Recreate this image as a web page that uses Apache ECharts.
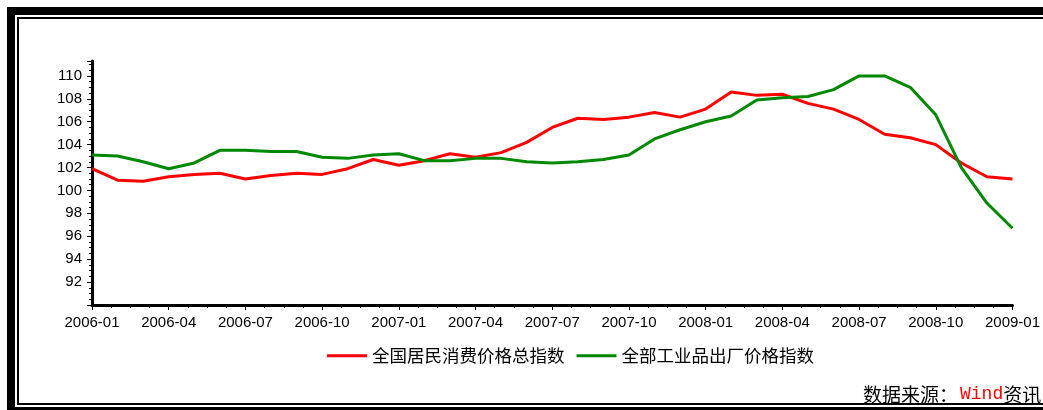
<!DOCTYPE html>
<html>
<head>
<meta charset="utf-8">
<script src="https://cdn.jsdelivr.net/npm/echarts@6/dist/echarts.min.js"></script>
<style>
html,body{margin:0;padding:0;background:#fff;}
#c{width:1043px;height:410px;}
</style>
</head>
<body>
<div id="c"></div>
<script>
const months = ['2006-01','2006-02','2006-03','2006-04','2006-05','2006-06','2006-07','2006-08','2006-09','2006-10','2006-11','2006-12',
  '2007-01','2007-02','2007-03','2007-04','2007-05','2007-06','2007-07','2007-08','2007-09','2007-10','2007-11','2007-12',
  '2008-01','2008-02','2008-03','2008-04','2008-05','2008-06','2008-07','2008-08','2008-09','2008-10','2008-11','2008-12',
  '2009-01'];
const cpi = [101.9,100.9,100.8,101.2,101.4,101.5,101.0,101.3,101.5,101.4,101.9,102.7,
  102.2,102.6,103.2,102.9,103.3,104.2,105.5,106.3,106.2,106.4,106.8,106.4,
  107.1,108.6,108.3,108.4,107.6,107.1,106.2,104.9,104.6,104.0,102.4,101.2,
  101.0];
const ppi = [103.1,103.0,102.5,101.9,102.4,103.5,103.5,103.4,103.4,102.9,102.8,103.1,
  103.2,102.6,102.6,102.8,102.8,102.5,102.4,102.5,102.7,103.1,104.5,105.3,
  106.0,106.5,107.9,108.1,108.2,108.8,110.0,110.0,109.0,106.6,102.0,98.9,
  96.7];
const yTicks = [92,94,96,98,100,102,104,106,108,110];
const seriesNames = ['全国居民消费价格总指数','全部工业品出厂价格指数'];

const chart = echarts.init(document.getElementById('c'), null, {renderer:'canvas'});
const axisFont = {fontFamily:'Liberation Sans', fontSize:15, color:'#000'};
chart.setOption({
  animation:false,
  backgroundColor:'#fff',
  graphic:[
    {type:'rect', z:-10, shape:{x:7,y:7,width:1100,height:420}, style:{fill:'#000'}},
    {type:'rect', z:-9, shape:{x:15,y:15,width:1100,height:392}, style:{fill:'#fff'}},
    {type:'rect', z:-8, shape:{x:18,y:18,width:1100,height:386}, style:{fill:'#fff', stroke:'#000', lineWidth:2}},
    {type:'text', z:10, left:863, top:385, style:{
      text:'{a|数据来源}{c|：}{w|Wind}{a|资讯}',
      rich:{
        a:{fontFamily:'Noto Sans CJK SC', fontSize:19, fill:'#000'},
        c:{fontFamily:'Noto Sans CJK SC', fontSize:19, fill:'#000', width:21},
        w:{fontFamily:'Liberation Mono', fontSize:18, fill:'#ff0000'}
      }
    }}
  ],
  legend:{
    left:327, top:347, padding:0,
    icon:'rect', itemWidth:40, itemHeight:3, itemGap:12,
    textStyle:{fontFamily:'Noto Sans CJK SC', fontSize:17.5, color:'#000'},
    data:seriesNames
  },
  grid:{left:92, right:29, top:61, bottom:105},
  xAxis:{
    type:'value', min:0, max:months.length-1, interval:3,
    axisLine:{show:true, lineStyle:{color:'#000', width:3}},
    axisTick:{show:true, length:5, lineStyle:{color:'#000'}},
    minorTick:{show:true, splitNumber:4, length:3, lineStyle:{color:'#000'}},
    splitLine:{show:false},
    axisLabel:Object.assign({margin:10, showMaxLabel:true, formatter:(v)=>months[v]||''}, axisFont)
  },
  yAxis:{
    type:'value', min:90, max:111.3, interval:2,
    axisLine:{show:true, lineStyle:{color:'#000', width:3}},
    axisTick:{show:true, length:5, lineStyle:{color:'#000'}},
    minorTick:{show:true, splitNumber:4, length:3, lineStyle:{color:'#000'}},
    splitLine:{show:false},
    axisLabel:Object.assign({margin:10, showMinLabel:false, showMaxLabel:false,
      formatter:(v)=> yTicks.indexOf(v)>=0 ? String(v) : ''}, axisFont)
  },
  series:[
    {name:seriesNames[0], type:'line', symbol:'none', color:'#ff0000',
     lineStyle:{width:3, color:'#ff0000'}, data:cpi.map((v,i)=>[i,v])},
    {name:seriesNames[1], type:'line', symbol:'none', color:'#008800',
     lineStyle:{width:3, color:'#008800'}, data:ppi.map((v,i)=>[i,v])}
  ]
});
</script>
</body>
</html>
